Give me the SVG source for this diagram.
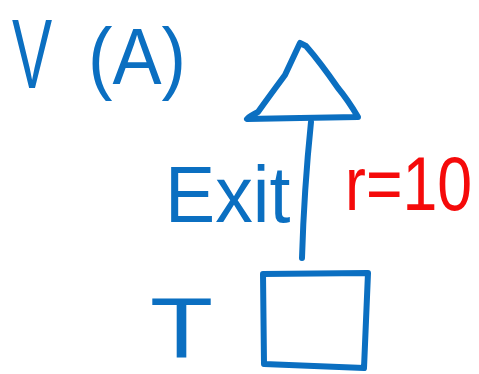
<svg xmlns="http://www.w3.org/2000/svg" width="479" height="374" viewBox="0 0 479 374">
<style>
.ink{fill:none;stroke:#0b6fc1;stroke-width:6;stroke-linecap:round;stroke-linejoin:round}
.lbl{font-family:"Liberation Sans","DejaVu Sans",sans-serif;fill:#0b6fc1}
.red{fill:#f50a0a}
</style>
<rect width="479" height="374" fill="#fff"/>
<g id="title">
<text class="lbl" transform="translate(12,88) scale(0.86,1.4)" font-size="70">V</text>
<text class="lbl" transform="translate(88,84) scale(0.92,1)" font-size="80">(A)</text>
</g>
<g id="node-triangle">
<path class="ink" d="M300,43 Q292,60 285,75 Q268,98 258,112 Q250,116 247,119 L300,118 L358,117 Q348,100 338,88 Q320,62 306,46 Z"/>
</g>
<g id="node-square">
<path class="ink" d="M263,274 L368,273 L364,368 L264,364 Z"/>
<text class="lbl" transform="translate(150,357) scale(1.2,1)" font-size="86">T</text>
</g>
<g id="connectors">
<path class="ink" d="M302,258 Q304,190 311,122"/>
<text class="lbl" transform="translate(165,222) scale(0.94,1)" font-size="80">Exit</text>
<text class="lbl red" transform="translate(345,210) scale(0.95,1.15)" font-size="66">r=10</text>
</g>
</svg>
